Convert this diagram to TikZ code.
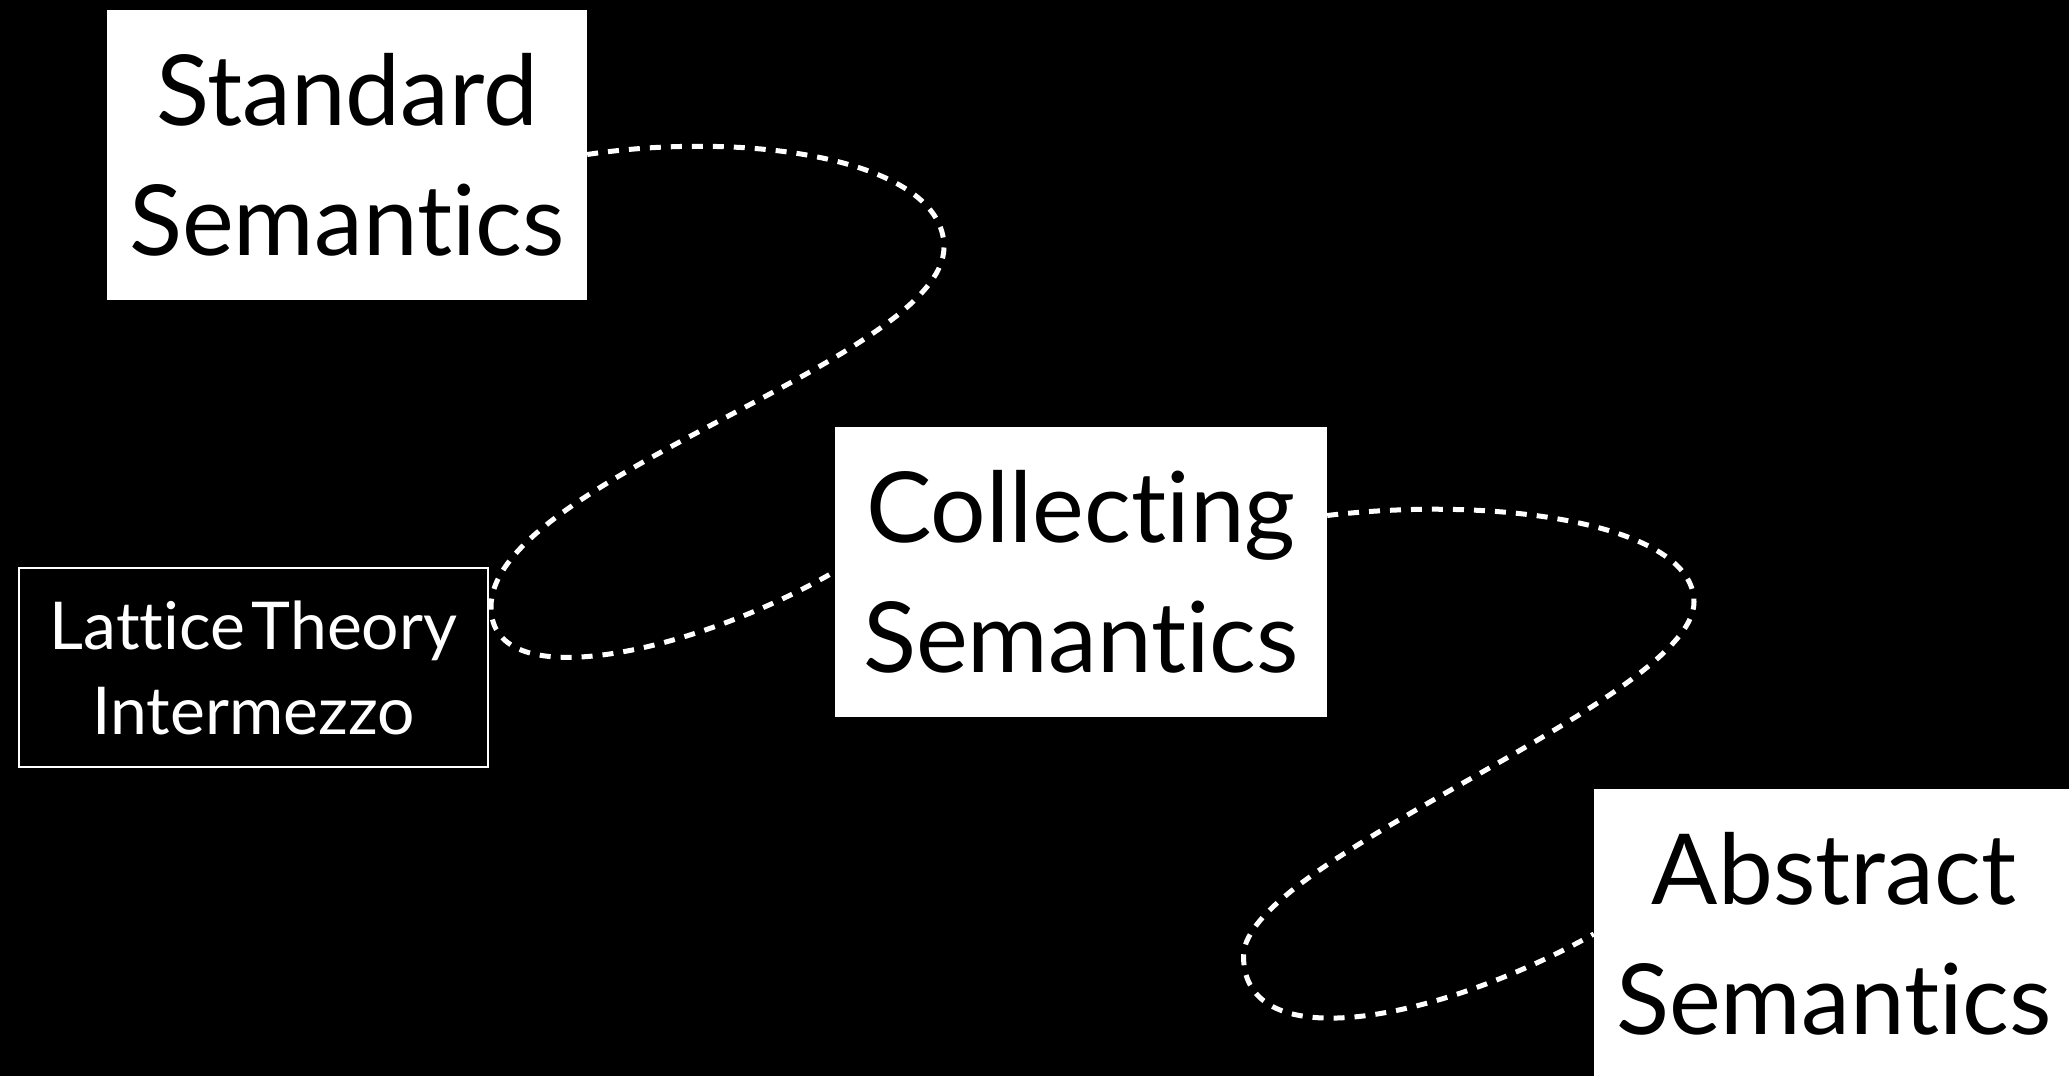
\documentclass[tikz,border=0pt]{standalone}
\usepackage{fontspec}
\setmainfont[Ligatures=NoCommon]{Lato}
\usetikzlibrary{positioning,calc}

\begin{document}
\begin{tikzpicture}[x=1pt,y=-1pt,
 sem/.style={fill=white,text=black,align=center,inner sep=0pt,minimum height=290pt,
  font=\fontsize{98}{130}\selectfont},
 side/.style={draw=white,line width=2pt,fill=black,text=white,align=center,inner sep=0pt,
  minimum height=199pt,font=\fontsize{66}{85}\selectfont},
 path/.style={draw=white,line width=5pt,dash pattern=on 11pt off 10pt}]
% background and page size
\fill[black] (0,0) rectangle (2069,1076);
\useasboundingbox (0,0) rectangle (2069,1076);
\node[sem,text width=480pt] (std) at (347,154.5) {Standard\\Semantics};
\node[side,text width=469pt] (lat) at (253.5,667.5) {Lattice\hspace{0.1em}Theory\\Intermezzo};
\node[sem,text width=492pt] (col) at (1081,571.5) {Collecting\\Semantics};
\node[sem,text width=480pt] (abs) at (1834,934) {Abstract\\Semantics};
% dotted road
\draw[path] (std.east) .. controls (750,130) and (944,160) .. (944,247)
 .. controls (944,360) and (491,480) .. (491,607)
 .. controls (491,700) and (700,650) .. (col.west);
\draw[path] ([yshift=56pt]col.east) .. controls (1500,495) and (1694,525) .. (1694,602)
 .. controls (1694,700) and (1243.5,860) .. (1243.5,956)
 .. controls (1243.5,1060) and (1440,1020) .. (abs.west);
\end{tikzpicture}
\end{document}
